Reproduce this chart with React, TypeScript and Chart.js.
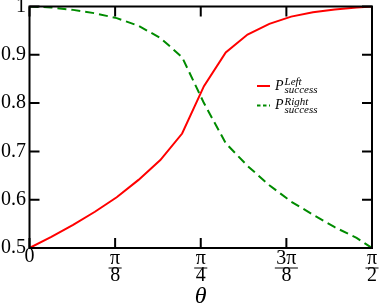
import React, { useEffect, useRef } from 'react';
import { Chart, registerables } from 'chart.js';

Chart.register(...registerables);

// ---- data ----
const THETA = [0, 0.1, 0.2, 0.3, 0.4, 0.5, 0.6, 0.7, 0.8, 0.9, 1.0, 1.1, 1.2, 1.3, 1.4, 1.5, Math.PI / 2];
const P_LEFT = [0.5, 0.523, 0.548, 0.575, 0.605, 0.641, 0.682, 0.737, 0.835, 0.905, 0.942, 0.964, 0.979, 0.988, 0.994, 0.998, 1.0];
const P_RIGHT = [1.0, 0.998, 0.993, 0.986, 0.976, 0.96, 0.935, 0.895, 0.8, 0.717, 0.67, 0.63, 0.596, 0.569, 0.543, 0.521, 0.5];
const X_TICKS = [0, Math.PI / 8, Math.PI / 4, (3 * Math.PI) / 8, Math.PI / 2];
const X_TICK_LABELS: (string | string[])[] = ['0', ['π', '8'], ['π', '4'], ['3π', '8'], ['π', '2']];
const Y_TICKS = [0.5, 0.6, 0.7, 0.8, 0.9, 1];
const Y_TICK_LABELS = ['0.5', '0.6', '0.7', '0.8', '0.9', '1'];
const SERIES_SUPERSCRIPTS = ['Left', 'Right'];
const SERIES_SUBSCRIPT = 'success';
const SERIES_SYMBOL = 'P';
const X_TITLE = 'θ';

// ---- styles ----
const FONT = '"Liberation Serif", "DejaVu Serif", serif';
const RED = '#ff0000';
const GREEN = '#008b00';
const TICK_FONT_SIZE = 20;
const FRAC_LH = 0.85;
const ZERO_LH = 0.65;
const X_TICK_PAD = 2.5;
const TICK_LEN = 10;

const framePlugin = {
  id: 'frameTicks',
  afterDatasetsDraw(chart: any) {
    const { ctx, chartArea: a, scales } = chart;
    const xs = scales.x;
    const ys = scales.y;
    ctx.save();
    ctx.strokeStyle = '#000';
    ctx.lineWidth = 2;
    ctx.strokeRect(a.left, a.top, a.right - a.left, a.bottom - a.top);
    ctx.beginPath();
    X_TICKS.forEach((v) => {
      const px = xs.getPixelForValue(v);
      ctx.moveTo(px, a.bottom);
      ctx.lineTo(px, a.bottom - TICK_LEN);
      ctx.moveTo(px, a.top);
      ctx.lineTo(px, a.top + TICK_LEN);
    });
    Y_TICKS.forEach((v) => {
      const py = ys.getPixelForValue(v);
      ctx.moveTo(a.left, py);
      ctx.lineTo(a.left + TICK_LEN, py);
      ctx.moveTo(a.right, py);
      ctx.lineTo(a.right - TICK_LEN, py);
    });
    ctx.stroke();
    // fraction bars under numerators
    ctx.font = `${TICK_FONT_SIZE}px ${FONT}`;
    ctx.lineWidth = 1;
    ctx.beginPath();
    const barY = xs.top + X_TICK_PAD + TICK_FONT_SIZE * FRAC_LH + 0.5;
    X_TICKS.forEach((v, i) => {
      const lab = X_TICK_LABELS[i];
      if (!Array.isArray(lab)) return;
      const w = Math.max(...lab.map((s) => ctx.measureText(s).width)) + 3;
      const px = xs.getPixelForValue(v);
      ctx.moveTo(px - w / 2, barY);
      ctx.lineTo(px + w / 2, barY);
    });
    ctx.stroke();
    ctx.restore();
  },
};

const legendPlugin = {
  id: 'texLegend',
  afterDraw(chart: any) {
    const { ctx } = chart;
    const lx0 = 257;
    const lx1 = 270;
    const y0 = 86;
    const dy = 19.5;
    chart.data.datasets.forEach((ds: any, i: number) => {
      const y = y0 + i * dy;
      ctx.save();
      ctx.strokeStyle = ds.borderColor;
      ctx.lineWidth = 2;
      ctx.setLineDash(i === 0 ? [] : [3.5, 2.5]);
      ctx.beginPath();
      ctx.moveTo(lx0, y);
      ctx.lineTo(lx1, y);
      ctx.stroke();
      ctx.setLineDash([]);
      ctx.fillStyle = '#000';
      ctx.textBaseline = 'alphabetic';
      ctx.textAlign = 'left';
      ctx.font = `italic 14px ${FONT}`;
      const px = 275;
      ctx.fillText(SERIES_SYMBOL, px, y + 3.5);
      const sx = px + ctx.measureText(SERIES_SYMBOL).width + 1;
      ctx.font = `italic 11px ${FONT}`;
      ctx.fillText(SERIES_SUPERSCRIPTS[i], sx, y - 0.8);
      ctx.fillText(SERIES_SUBSCRIPT, sx, y + 7);
      ctx.restore();
    });
  },
};

export default function App() {
  const ref = useRef<HTMLCanvasElement | null>(null);
  useEffect(() => {
    document.body.style.margin = '0';
    const canvas = ref.current;
    if (!canvas) return;
    const chart = new Chart(canvas, {
      type: 'line',
      data: {
        datasets: [
          {
            label: 'P Left success',
            data: THETA.map((t, i) => ({ x: t, y: P_LEFT[i] })),
            borderColor: RED,
            borderWidth: 2,
            pointRadius: 0,
            fill: false,
          },
          {
            label: 'P Right success',
            data: THETA.map((t, i) => ({ x: t, y: P_RIGHT[i] })),
            borderColor: GREEN,
            borderWidth: 2,
            borderDash: [9, 5],
            pointRadius: 0,
            fill: false,
          },
        ],
      },
      options: {
        animation: false,
        responsive: false,
        maintainAspectRatio: false,
        layout: { padding: { top: 6.5, right: 9, left: 0, bottom: 0 } },
        plugins: { legend: { display: false }, tooltip: { enabled: false } },
        scales: {
          x: {
            type: 'linear',
            min: 0,
            max: Math.PI / 2,
            grid: { display: false, drawTicks: false },
            border: { display: false },
            afterBuildTicks: (s: any) => {
              s.ticks = X_TICKS.map((v) => ({ value: v }));
            },
            afterFit: (s: any) => {
              s.height = 59;
              s.paddingLeft = 0;
              s.paddingRight = 0;
            },
            ticks: {
              autoSkip: false,
              maxRotation: 0,
              minRotation: 0,
              padding: X_TICK_PAD,
              color: '#000',
              font: (c: any) =>
                c.index === 0
                  ? { family: FONT, size: TICK_FONT_SIZE, lineHeight: ZERO_LH }
                  : { family: FONT, size: TICK_FONT_SIZE, lineHeight: FRAC_LH },
              callback: (_v: any, i: number) => X_TICK_LABELS[i],
            },
            title: {
              display: true,
              text: X_TITLE,
              color: '#000',
              font: { family: FONT, size: 24, style: 'italic', lineHeight: 0.85 },
              padding: 0,
            },
          },
          y: {
            type: 'linear',
            min: 0.5,
            max: 1,
            grid: { display: false, drawTicks: false },
            border: { display: false },
            afterBuildTicks: (s: any) => {
              s.ticks = Y_TICKS.map((v) => ({ value: v }));
            },
            afterFit: (s: any) => {
              s.width = 29.5;
              s.paddingTop = 0;
              s.paddingBottom = 0;
            },
            ticks: {
              padding: 3.5,
              color: '#000',
              font: { family: FONT, size: TICK_FONT_SIZE },
              callback: (_v: any, i: number) => Y_TICK_LABELS[i],
            },
          },
        },
      } as any,
      plugins: [framePlugin, legendPlugin],
    });
    return () => chart.destroy();
  }, []);
  return (
    <div style={{ width: 381, height: 307 }}>
      <canvas ref={ref} width={381} height={307} style={{ display: 'block' }} />
    </div>
  );
}
